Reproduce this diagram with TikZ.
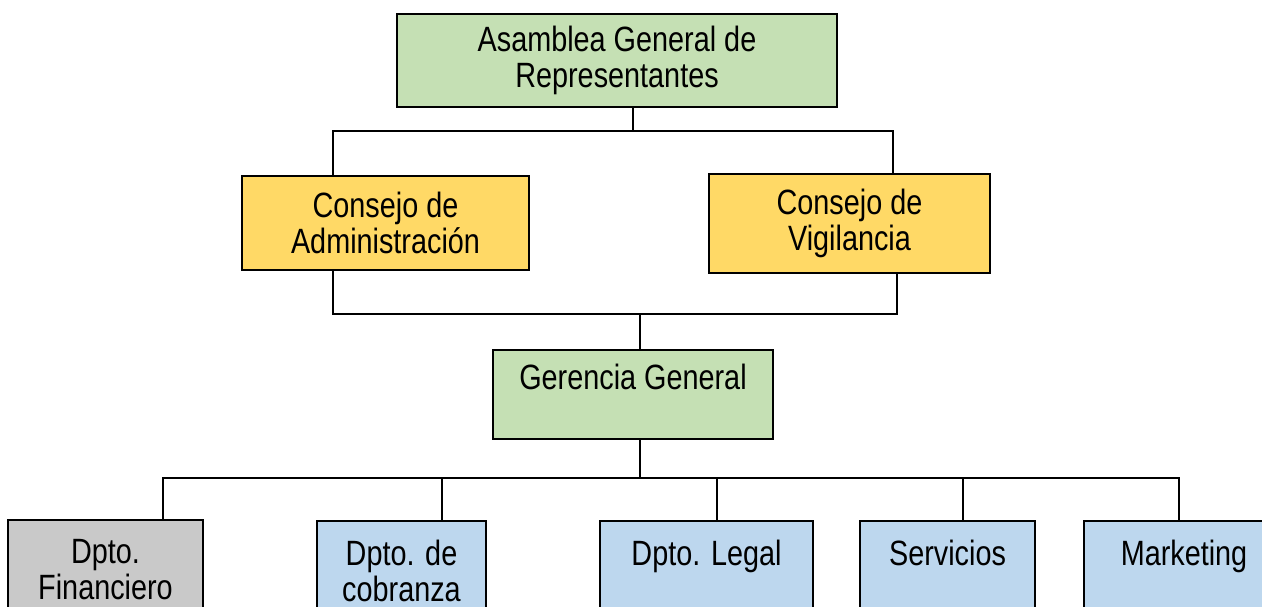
\documentclass[tikz,border=0pt]{standalone}
\usepackage{fontspec}
\setmainfont{Liberation Sans}[FakeStretch=0.82]
\usepackage{xcolor}
\definecolor{verde}{HTML}{C5E0B4}
\definecolor{amarillo}{HTML}{FFD966}
\definecolor{gris}{HTML}{C9C9C9}
\definecolor{azul}{HTML}{BDD7EE}

\begin{document}
\begin{tikzpicture}[x=0.02cm,y=-0.02cm,
        caja/.style={draw,line width=1pt,align=center,inner sep=0pt,
                font=\fontsize{20}{20.5}\selectfont},
        linea/.style={line width=1pt}]
        \clip (0,0) rectangle (1262,606);
        \node[caja,fill=verde,minimum width=8.8cm,minimum height=1.86cm](asamblea) at (617,60.5) {Asamblea General de\\Representantes};
        \node[caja,fill=amarillo,minimum width=5.74cm,minimum height=1.88cm](admin) at (385.5,223) {Consejo de\\Administración};
        \node[caja,fill=amarillo,minimum width=5.62cm,minimum height=1.98cm](vigil) at (849.5,223.5) {Consejo de\\Vigilancia};
        \node[caja,fill=verde,minimum width=5.6cm,minimum height=1.78cm](gerencia) at (633,394.5) {Gerencia General\\\mbox{}};
        \node[caja,fill=gris,minimum width=3.9cm,minimum height=2cm](financiero) at (105.5,570) {Dpto.\\Financiero};
        \node[caja,fill=azul,minimum width=3.38cm,minimum height=2cm](cobranza) at (401.5,571) {Dpto. de\\cobranza};
        \node[caja,fill=azul,minimum width=4.26cm,minimum height=2cm](legal) at (706.5,571) {Dpto. Legal\\\mbox{}};
        \node[caja,fill=azul,minimum width=3.5cm,minimum height=2cm](servicios) at (947.5,571) {Servicios\\\mbox{}};
        \node[caja,fill=azul,minimum width=4cm,minimum height=2cm](marketing) at (1184,571) {Marketing\\\mbox{}};
        \coordinate(r1) at (633,131);
        \coordinate(r1i) at (333,131);
        \coordinate(r1d) at (893,131);
        \coordinate(r2) at (640,314);
        \coordinate(r2i) at (333,314);
        \coordinate(r2d) at (897,314);
        \coordinate(r3) at (640,478);
        \coordinate(r3i) at (163,478);
        \coordinate(r3d) at (1179,478);
        \coordinate(d2) at (442,478);
        \coordinate(d3) at (717,478);
        \coordinate(d4) at (963,478);
        \draw[linea](asamblea.south -| r1)--(r1);
        \draw[linea](admin.north -| r1i)--(r1i)--(r1d)--(vigil.north -| r1d);
        \draw[linea](admin.south -| r2i)--(r2i)--(r2d)--(vigil.south -| r2d);
        \draw[linea](r2)--(gerencia.north -| r2);
        \draw[linea](gerencia.south -| r3)--(r3);
        \draw[linea](financiero.north -| r3i)--(r3i)--(r3d)--(marketing.north -| r3d);
        \draw[linea](d2)--(cobranza.north -| d2);
        \draw[linea](d3)--(legal.north -| d3);
        \draw[linea](d4)--(servicios.north -| d4);
\end{tikzpicture}
\end{document}
